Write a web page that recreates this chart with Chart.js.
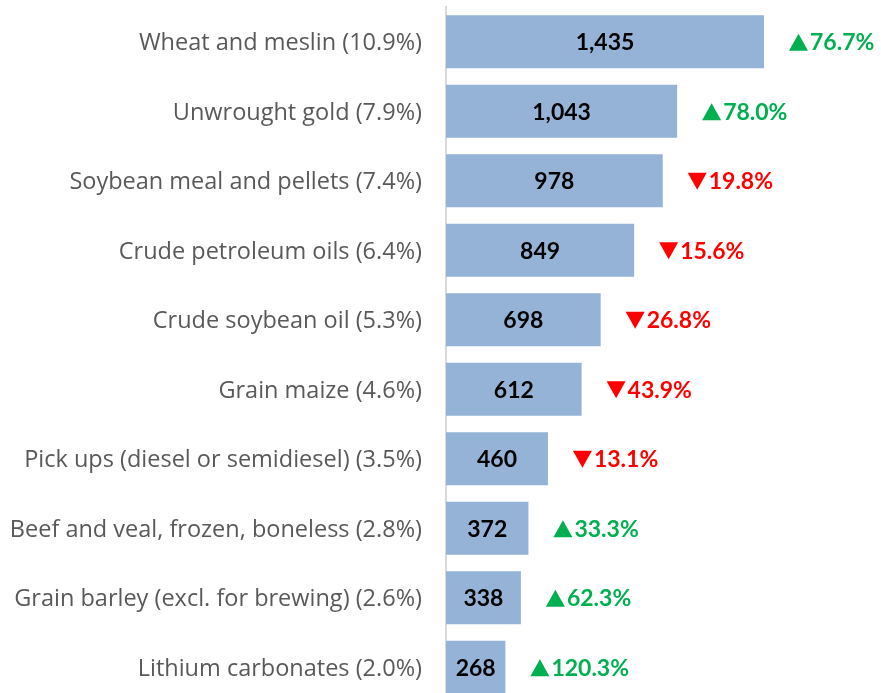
<!DOCTYPE html>
<html>
<head>
<meta charset="utf-8">
<script src="https://cdn.jsdelivr.net/npm/chart.js@4"></script>
<style>
  html, body { margin: 0; padding: 0; background: #fff; overflow: hidden; }
  #wrap { width: 881px; height: 702px; }
</style>
</head>
<body>
<div id="wrap"><canvas id="exportChart"></canvas></div>
<script>
// top exports - values and yearly change
const products = [
  "Wheat and meslin (10.9%)",
  "Unwrought gold (7.9%)",
  "Soybean meal and pellets (7.4%)",
  "Crude petroleum oils (6.4%)",
  "Crude soybean oil (5.3%)",
  "Grain maize (4.6%)",
  "Pick ups (diesel or semidiesel) (3.5%)",
  "Beef and veal, frozen, boneless (2.8%)",
  "Grain barley (excl. for brewing) (2.6%)",
  "Lithium carbonates (2.0%)"
];
const values = [1435, 1043, 978, 849, 698, 612, 460, 372, 338, 268];
const changes = [76.7, 78.0, -19.8, -15.6, -26.8, -43.9, -13.1, 33.3, 62.3, 120.3];

const BOLD_FONT = "bold 23px Lato, 'Open Sans', sans-serif";

// draws value inside bar and change arrow after it
const barLabels = {
  id: "barLabels",
  afterDatasetsDraw(chart) {
    const ctx = chart.ctx;
    const meta = chart.getDatasetMeta(0);
    ctx.save();
    ctx.textBaseline = "middle";
    ctx.font = BOLD_FONT;
    meta.data.forEach((bar, i) => {
      const left = bar.base;
      const right = bar.x;
      ctx.fillStyle = "#000";
      ctx.textAlign = "center";
      ctx.fillText(values[i].toLocaleString("en-US"), (left + right) / 2, bar.y + 1);

      const up = changes[i] >= 0;
      ctx.fillStyle = up ? "#00B050" : "#FF0000";
      ctx.textAlign = "left";
      const x0 = right + 25;
      ctx.beginPath();
      if (up) {
        ctx.moveTo(x0, bar.y + 9);
        ctx.lineTo(x0 + 19, bar.y + 9);
        ctx.lineTo(x0 + 9.5, bar.y - 8);
      } else {
        ctx.moveTo(x0, bar.y - 8);
        ctx.lineTo(x0 + 19, bar.y - 8);
        ctx.lineTo(x0 + 9.5, bar.y + 9);
      }
      ctx.closePath();
      ctx.fill();
      ctx.fillText(Math.abs(changes[i]).toFixed(1) + "%", x0 + 21, bar.y + 1);
    });
    ctx.restore();
  }
};

new Chart(document.getElementById("exportChart"), {
  type: "bar",
  data: {
    labels: products,
    datasets: [{
      data: values,
      backgroundColor: "#95B3D7",
      categoryPercentage: 1,
      barPercentage: 0.76
    }]
  },
  options: {
    indexAxis: "y",
    responsive: true,
    maintainAspectRatio: false,
    animation: false,
    layout: { padding: { top: 7, left: 0, right: 0, bottom: 0 } },
    plugins: {
      legend: { display: false },
      tooltip: { enabled: false }
    },
    scales: {
      x: {
        min: 0,
        max: 1963,
        display: false
      },
      y: {
        afterFit(scale) {
          scale.width = 446;
          scale.paddingTop = 0;
          scale.paddingBottom = 0;
        },
        grid: { display: false, drawTicks: false },
        border: { display: true, color: "#D9D9D9", width: 2 },
        ticks: {
          color: "#595959",
          padding: 24,
          labelOffset: 2,
          font: { family: "'Open Sans', sans-serif", size: 23.5 }
        }
      }
    }
  },
  plugins: [barLabels]
});
</script>
</body>
</html>
